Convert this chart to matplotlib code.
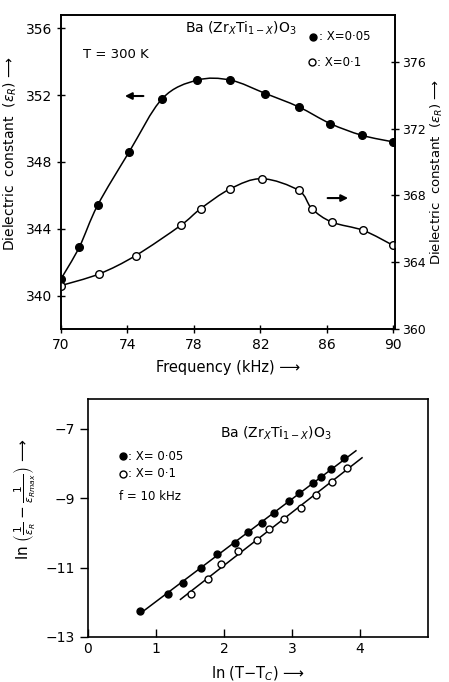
import numpy as np
import matplotlib
matplotlib.use("Agg")
from matplotlib import pyplot as plt
from matplotlib.path import Path
from matplotlib.patches import PathPatch

plt.rcParams["font.family"] = ["DejaVu Sans"]
plt.rcParams["mathtext.fontset"] = "dejavusans"

# top panel: dielectric constant vs frequency
freq_a = [70, 71.1, 72.2, 74.1, 76.1, 78.2, 80.2, 82.3, 84.3, 86.2, 88.1, 90]
eps_a = [341.0, 342.9, 345.4, 348.6, 351.8, 352.9, 352.9, 352.1, 351.3, 350.3, 349.6, 349.2]   # x=0.05, left axis
freq_b = [70, 72.3, 74.5, 77.2, 78.4, 80.2, 82.1, 84.3, 85.1, 86.3, 88.2, 90]
eps_b = [362.6, 363.3, 364.4, 366.2, 367.2, 368.4, 369.0, 368.3, 367.2, 366.4, 365.9, 365.0]   # x=0.1, right axis
freq_ticks = [70, 74, 78, 82, 86, 90]
left_ticks = [340, 344, 348, 352, 356]
right_ticks = [360, 364, 368, 372, 376]

# bottom panel: ln(1/eps - 1/eps_max) vs ln(T-Tc)
lnT_a = [0.76, 1.18, 1.40, 1.66, 1.89, 2.16, 2.36, 2.56, 2.73, 2.96, 3.11, 3.31, 3.43, 3.58, 3.77]
lne_a = [-12.26, -11.75, -11.44, -11.01, -10.62, -10.28, -9.97, -9.71, -9.42, -9.08, -8.86, -8.57, -8.38, -8.17, -7.85]
lnT_b = [1.52, 1.76, 1.96, 2.21, 2.49, 2.66, 2.88, 3.13, 3.35, 3.59, 3.81]
lne_b = [-11.75, -11.34, -10.91, -10.52, -10.21, -9.88, -9.61, -9.29, -8.91, -8.52, -8.12]
fit_range_a = [0.76, 3.94]
fit_range_b = [1.36, 4.03]


def smooth_path(xs, ys):
    pts = np.column_stack([xs, ys]).astype(float)
    verts = [pts[0]]
    codes = [Path.MOVETO]
    n = len(pts)
    for i in range(n - 1):
        p0 = pts[max(i - 1, 0)]
        p1 = pts[i]
        p2 = pts[i + 1]
        p3 = pts[min(i + 2, n - 1)]
        verts += [p1 + (p2 - p0) / 6, p2 - (p3 - p1) / 6, p2]
        codes += [Path.CURVE4] * 3
    return Path(verts, codes)


fig = plt.figure(figsize=(4.49, 6.82), dpi=100)

########################################################################################################################
# top panel
ax = fig.add_axes([61/449, 1-329/682, 334/449, 314/682])
ax2 = ax.twinx()

ax.add_patch(PathPatch(smooth_path(freq_a, eps_a), fc="none", ec="black", lw=1.1))
ax.plot(freq_a, eps_a, "o", c="black", ms=5.5, ls="none")
ax2.add_patch(PathPatch(smooth_path(freq_b, eps_b), fc="none", ec="black", lw=1.1))
ax2.plot(freq_b, eps_b, "o", mfc="white", mec="black", mew=1, ms=5.5, ls="none")

ax.set_xlim(70, 90.1)
ax.set_ylim(338.0, 356.8)
ax2.set_ylim(360.0, 378.8)
ax.set_xticks(freq_ticks)
ax.set_yticks(left_ticks)
ax2.set_yticks(right_ticks)
ax.tick_params(direction="inout", length=6, width=1, labelsize=10)
ax2.tick_params(direction="inout", length=6, width=1, labelsize=9, pad=2)
for a in (ax, ax2):
    for s in a.spines.values():
        s.set_linewidth(1.2)

ax.set_xlabel("Frequency (kHz) ⟶", fontsize=10.5, labelpad=6)
ax.set_ylabel(r"Dielectric  constant  ($\varepsilon_R$) ⟶", fontsize=10)
ax.yaxis.set_label_coords(-0.125, 0.56)
ax2.set_ylabel(r"Dielectric  constant  ($\varepsilon_R$) ⟶", fontsize=9.5, rotation=90)
ax2.yaxis.set_label_coords(1.10, 0.5)

ax.text(0.371, 0.959, r"Ba (Zr$_X$Ti$_{1-X}$)O$_3$", transform=ax.transAxes, fontsize=10, va="center")
ax.text(0.066, 0.873, "T = 300 K", transform=ax.transAxes, fontsize=9.5, va="center")
ax.plot([0.755], [0.930], "o", c="black", ms=5, transform=ax.transAxes)
ax.text(0.772, 0.930, ": X=0·05", transform=ax.transAxes, fontsize=8.5, va="center")
ax.plot([0.750], [0.850], "o", mfc="white", mec="black", ms=5, transform=ax.transAxes)
ax.text(0.767, 0.850, ": X=0·1", transform=ax.transAxes, fontsize=8.5, va="center")

ax.annotate("", xy=(0.183, 0.742), xytext=(0.255, 0.742), xycoords="axes fraction",
            arrowprops=dict(arrowstyle="-|>", color="black", lw=1.5, mutation_scale=10))
ax.annotate("", xy=(0.868, 0.417), xytext=(0.790, 0.417), xycoords="axes fraction",
            arrowprops=dict(arrowstyle="-|>", color="black", lw=1.5, mutation_scale=10))

########################################################################################################################
# bottom panel
bx = fig.add_axes([88/449, 1-637/682, 340/449, 238/682])

coef_a = np.polyfit(lnT_a, lne_a, 1)
coef_b = np.polyfit(lnT_b, lne_b, 1)
bx.plot(fit_range_a, np.polyval(coef_a, fit_range_a), c="black", lw=1.1)
bx.plot(fit_range_b, np.polyval(coef_b, fit_range_b), c="black", lw=1.1)
bx.plot(lnT_a, lne_a, "o", c="black", ms=5, ls="none")
bx.plot(lnT_b, lne_b, "o", mfc="white", mec="black", mew=1, ms=5, ls="none")

bx.set_xlim(0, 5)
bx.set_ylim(-13, -6.14)
bx.set_xticks([0, 1, 2, 3, 4])
bx.set_yticks([-13, -11, -9, -7])
bx.tick_params(axis="x", direction="in", length=6, width=1, labelsize=10)
bx.tick_params(axis="y", direction="out", length=6, width=1, labelsize=10)
for s in bx.spines.values():
    s.set_linewidth(1.2)

bx.set_xlabel(r"ln (T$-$T$_C$) ⟶", fontsize=10.5, labelpad=6)
bx.set_ylabel(r"ln $\left(\frac{1}{\varepsilon_R} - \frac{1}{\varepsilon_{Rmax}}\right)$ ⟶", fontsize=11)
bx.yaxis.set_label_coords(-0.15, 0.58)

bx.text(0.388, 0.857, r"Ba (Zr$_X$Ti$_{1-X}$)O$_3$", transform=bx.transAxes, fontsize=10, va="center")
bx.plot([0.103], [0.760], "o", c="black", ms=5, transform=bx.transAxes)
bx.text(0.118, 0.760, ": X= 0·05", transform=bx.transAxes, fontsize=8.5, va="center")
bx.plot([0.103], [0.685], "o", mfc="white", mec="black", ms=5, transform=bx.transAxes)
bx.text(0.118, 0.685, ": X= 0·1", transform=bx.transAxes, fontsize=8.5, va="center")
bx.text(0.090, 0.592, "f = 10 kHz", transform=bx.transAxes, fontsize=8.5, va="center")

plt.savefig("out.png", dpi=100)
